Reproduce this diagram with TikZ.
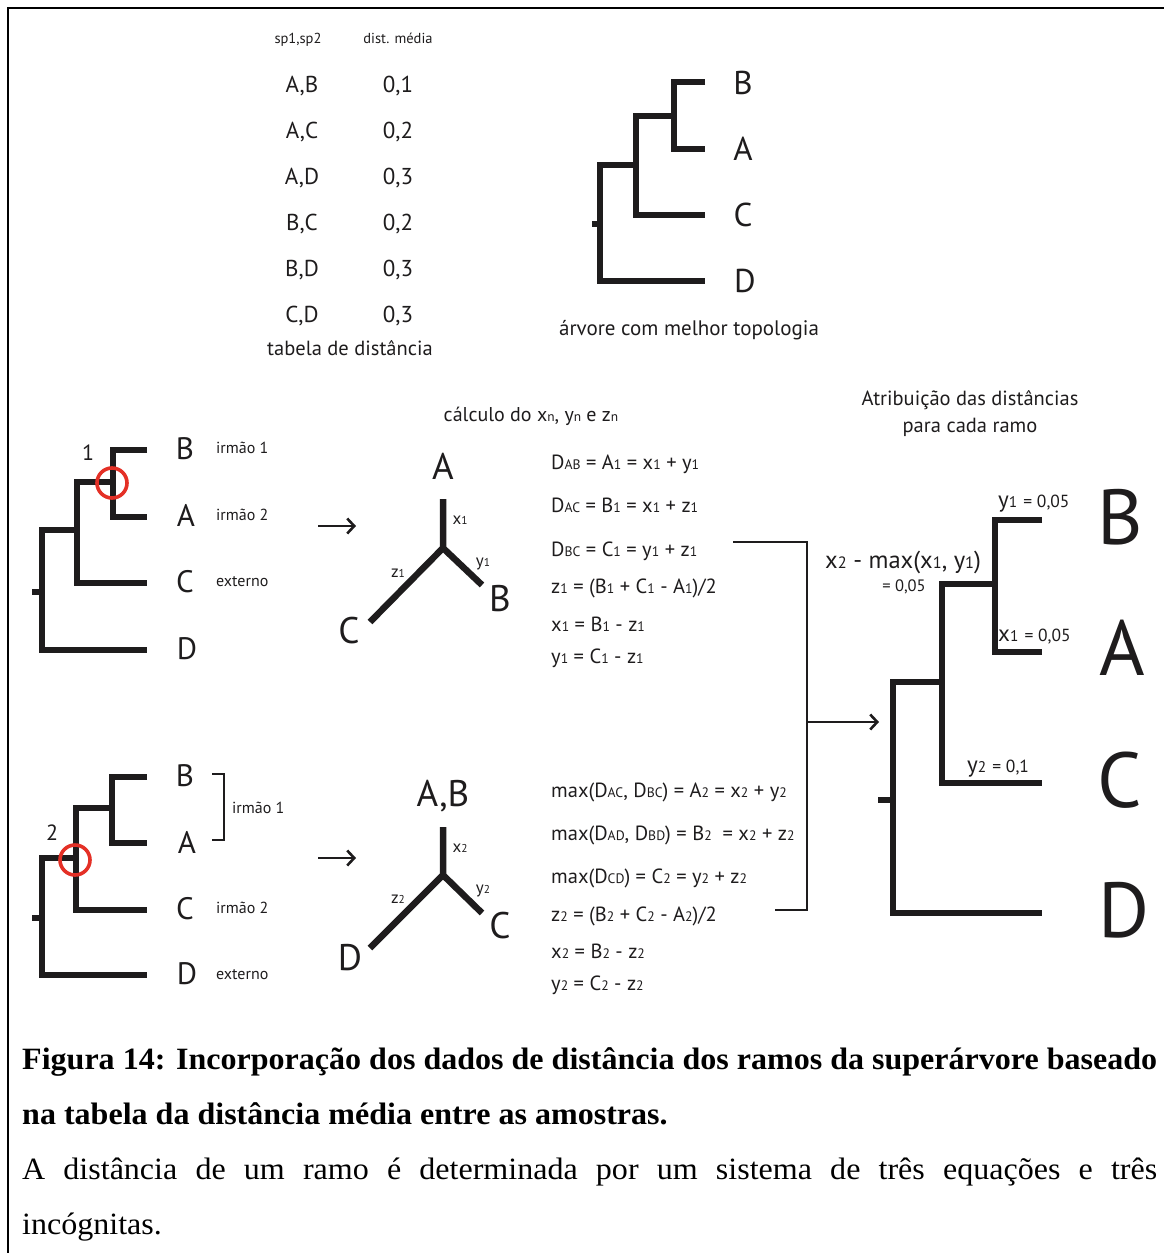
\documentclass[tikz,border=0pt]{standalone}
\usepackage{fontspec}
\setmainfont{PT Sans}
\newfontfamily\capfont{Liberation Serif}
\usetikzlibrary{arrows.meta}
\makeatletter
\newcommand\fs[1]{\fontsize{#1}{#1}\selectfont}
% small index letters/digits set on the baseline
\newcommand\lo[1]{{\fontsize{\fpeval{0.67*\f@size}}{1}\selectfont #1}}
\newsavebox\capbox
\newcommand\capsc{1}
\makeatother
\definecolor{ringred}{RGB}{228,48,38}
\definecolor{ink}{RGB}{30,28,29}

\begin{document}
\makeatletter
\sbox\capbox{\capfont\bfseries\fs{31}Figura 14: Incorporação dos dados de distância dos ramos da superárvore baseado}
\edef\capsc{\strip@pt\dimexpr 1135pt*65536/\wd\capbox\relax}
\makeatother
\begin{tikzpicture}[x=1pt,y=-1pt,
  txt/.style={inner sep=0pt,text=ink,anchor=base},
  txtw/.style={inner sep=0pt,text=ink,anchor=base west},
  br/.style={line width=6.5pt,line join=miter,draw=ink},
  thinline/.style={line width=2.6pt,draw=ink},
  arr/.style={thinline,-{Straight Barb[length=7pt,width=15pt,line width=2.6pt]}},
  ring/.style={draw=ringred,line width=3.6pt},
  eq/.style={txtw,font=\fs{20.5}},
  capline/.style={inner sep=0pt,anchor=base west}]
\useasboundingbox (0,0) rectangle (1164,1253);

% frame
\draw[line width=2.4pt] (8,1253) -- (8,8) -- (1164,8);

% ---- distance table ----
\node[txt,font=\fs{14.5}] (hsp) at (298,43) {sp1,sp2};
\node[txt,font=\fs{14.5}] (hdm) at (398,43) {dist. média};
\foreach \p/\d/\yy [count=\i] in {{A,B}/{0,1}/92, {A,C}/{0,2}/138, {A,D}/{0,3}/184, {B,C}/{0,2}/230, {B,D}/{0,3}/276, {C,D}/{0,3}/322}{
  \node[txt,font=\fs{23}] (pair\i) at (302,\yy) {\p};
  \node[txt,font=\fs{23}] (dist\i) at (398,\yy) {\d};
}
\node[txt,font=\fs{20.5}] (tabcap) at (350,355) {tabela de distância};

% ---- best topology tree ----
\draw[br] (705,82) -- (674,82) -- (674,149) -- (705,149);
\draw[br] (674,116) -- (636,116) -- (636,215) -- (705,215);
\draw[br] (636,165) -- (600,165) -- (600,281) -- (705,281);
\draw[br] (592,224) -- (600,224);
\node[txt,font=\fs{33}] (tB) at (743,94) {B};
\node[txt,font=\fs{33}] (tA) at (743,160) {A};
\node[txt,font=\fs{33}] (tC) at (743,226) {C};
\node[txt,font=\fs{33}] (tD) at (745,292) {D};
\node[txt,font=\fs{21}] (tcap) at (689,335) {árvore com melhor topologia};

% ---- step 1 tree ----
\draw[br] (147,450) -- (113,450) -- (113,517) -- (147,517);
\draw[br] (113,482) -- (77,482) -- (77,583) -- (147,583);
\draw[br] (77,530) -- (42,530) -- (42,650) -- (147,650);
\draw[br] (32,592) -- (42,592);
\draw[ring] (112,483) circle (15);
\node[txt,font=\fs{22}] (n1) at (88,460) {1};
\node[txt,font=\fs{31}] (aB) at (185,459) {B};
\node[txt,font=\fs{31}] (aA) at (186,526) {A};
\node[txt,font=\fs{31}] (aC) at (185,592) {C};
\node[txt,font=\fs{31}] (aD) at (187,659) {D};
\node[txtw,font=\fs{16}] (aS1) at (216,453) {irmão 1};
\node[txtw,font=\fs{16}] (aS2) at (216,520) {irmão 2};
\node[txtw,font=\fs{16}] (aEx) at (216,586) {externo};
\coordinate (a1s) at (318,526);
\coordinate (a1e) at (356,526);
\draw[arr] (a1s) -- (a1e);

% ---- step 1 unrooted tree ----
\node[txt,font=\fs{20}] (calc) at (531,421) {cálculo do x\lo{n}, y\lo{n} e z\lo{n}};
\coordinate (s1c) at (443,548);
\coordinate (s1u) at (443,499);
\coordinate (s1r) at (482,585);
\coordinate (s1l) at (370,622);
\draw[br,line cap=butt] (s1u) -- (s1c) -- (s1r) (s1c) -- (s1l);
\node[txt,font=\fs{37}] (sA) at (443,479) {A};
\node[txt,font=\fs{37}] (sB) at (500,611) {B};
\node[txt,font=\fs{37}] (sC) at (349,643) {C};
\node[txt,font=\fs{17}] (sx1) at (460,524) {x\lo{1}};
\node[txt,font=\fs{17}] (sy1) at (483,566) {y\lo{1}};
\node[txt,font=\fs{17}] (sz1) at (398,577) {z\lo{1}};

\node[eq] (e11) at (551,469) {D\lo{AB} = A\lo{1} = x\lo{1} + y\lo{1}};
\node[eq] (e12) at (551,512) {D\lo{AC} = B\lo{1} = x\lo{1} + z\lo{1}};
\node[eq] (e13) at (551,556) {D\lo{BC} = C\lo{1} = y\lo{1} + z\lo{1}};
\node[eq] (e14) at (551,593) {z\lo{1} = (B\lo{1} + C\lo{1} - A\lo{1})/2};
\node[eq] (e15) at (551,631) {x\lo{1} = B\lo{1} - z\lo{1}};
\node[eq] (e16) at (551,663) {y\lo{1} = C\lo{1} - z\lo{1}};

% ---- step 2 tree ----
\draw[br] (147,777) -- (112,777) -- (112,843) -- (147,843);
\draw[br] (112,808) -- (76,808) -- (76,910) -- (147,910);
\draw[br] (76,858) -- (42,858) -- (42,975) -- (147,975);
\draw[br] (32,918) -- (42,918);
\draw[ring] (75,860) circle (15);
\node[txt,font=\fs{22}] (n2) at (52,840) {2};
\node[txt,font=\fs{31}] (bB) at (185,786) {B};
\node[txt,font=\fs{31}] (bA) at (187,853) {A};
\node[txt,font=\fs{31}] (bC) at (185,919) {C};
\node[txt,font=\fs{31}] (bD) at (187,984) {D};
\draw[thinline] (212,774) -- (224,774) -- (224,840) -- (212,840);
\node[txtw,font=\fs{16}] (bS1) at (232,813) {irmão 1};
\node[txtw,font=\fs{16}] (bS2) at (216,913) {irmão 2};
\node[txtw,font=\fs{16}] (bEx) at (216,979) {externo};
\coordinate (a2s) at (318,858);
\coordinate (a2e) at (356,858);
\draw[arr] (a2s) -- (a2e);

% ---- step 2 unrooted tree ----
\coordinate (s2c) at (443,875);
\coordinate (s2u) at (443,827);
\coordinate (s2r) at (482,913);
\coordinate (s2l) at (370,948);
\draw[br,line cap=butt] (s2u) -- (s2c) -- (s2r) (s2c) -- (s2l);
\node[txt,font=\fs{37}] (qAB) at (443,806) {A,B};
\node[txt,font=\fs{37}] (qC) at (500,938) {C};
\node[txt,font=\fs{37}] (qD) at (350,970) {D};
\node[txt,font=\fs{17}] (qx2) at (460,852) {x\lo{2}};
\node[txt,font=\fs{17}] (qy2) at (483,893) {y\lo{2}};
\node[txt,font=\fs{17}] (qz2) at (398,903) {z\lo{2}};

\node[eq] (e21) at (551,797) {max(D\lo{AC}, D\lo{BC}) = A\lo{2} = x\lo{2} + y\lo{2}};
\node[eq] (e22) at (551,840) {max(D\lo{AD}, D\lo{BD}) = B\lo{2} \ = x\lo{2} + z\lo{2}};
\node[eq] (e23) at (551,883) {max(D\lo{CD}) = C\lo{2} = y\lo{2} + z\lo{2}};
\node[eq] (e24) at (551,921) {z\lo{2} = (B\lo{2} + C\lo{2} - A\lo{2})/2};
\node[eq] (e25) at (551,958) {x\lo{2} = B\lo{2} - z\lo{2}};
\node[eq] (e26) at (551,990) {y\lo{2} = C\lo{2} - z\lo{2}};

% ---- joining bracket ----
\coordinate (jt) at (733,542);
\coordinate (jb) at (775,910);
\coordinate (jm) at (807,722);
\coordinate (je) at (879,722);
\draw[thinline,line join=miter] (jt) -- (807,542) -- (807,910) -- (jb);
\draw[arr] (jm) -- (je);

% ---- tree with branch lengths ----
\node[txt,font=\fs{20.5}] (rt1) at (970,405) {Atribuição das distâncias};
\node[txt,font=\fs{20.5}] (rt2) at (970,432) {para cada ramo};
\draw[br] (1042,520) -- (995,520) -- (995,652) -- (1042,652);
\draw[br] (995,584) -- (942,584) -- (942,783) -- (1042,783);
\draw[br] (942,682) -- (893,682) -- (893,913) -- (1042,913);
\draw[br] (878,800) -- (893,800);
\node[txt,font=\fs{78}] (rB) at (1120,544) {B};
\node[txt,font=\fs{78}] (rA) at (1122,675) {A};
\node[txt,font=\fs{78}] (rC) at (1120,807) {C};
\node[txt,font=\fs{78}] (rD) at (1124,937) {D};
\node[txtw] (ly1) at (998,507) {\fs{23}y\lo{1} {\fs{17.5}= 0,05}};
\node[txtw] (lx1) at (998,641) {\fs{23}x\lo{1} {\fs{17.5}= 0,05}};
\node[txtw] (ly2) at (967,772) {\fs{23}y\lo{2} {\fs{17.5}= 0,1}};
\node[txtw,font=\fs{24.5}] (lx2) at (825,568) {x\lo{2} - max(x\lo{1}, y\lo{1})};
\node[txt,font=\fs{16.5}] (lx2v) at (904,591) {= 0,05};

% ---- caption ----
\node[capline] (cap1) at (22,1069) {\scalebox{\capsc}[1]{\usebox\capbox}};
\node[capline] (cap2) at (22,1124) {\scalebox{\capsc}[1]{\capfont\bfseries\fs{31}na tabela da distância média entre as amostras.}};
\node[capline] (cap3) at (22,1179) {\scalebox{\capsc}[1]{\makebox[\wd\capbox][s]{\capfont\fs{31}A distância de um ramo é determinada por um sistema de três equações e três}}};
\node[capline] (cap4) at (22,1234) {\scalebox{\capsc}[1]{\capfont\fs{31}incógnitas.}};
\end{tikzpicture}
\end{document}
